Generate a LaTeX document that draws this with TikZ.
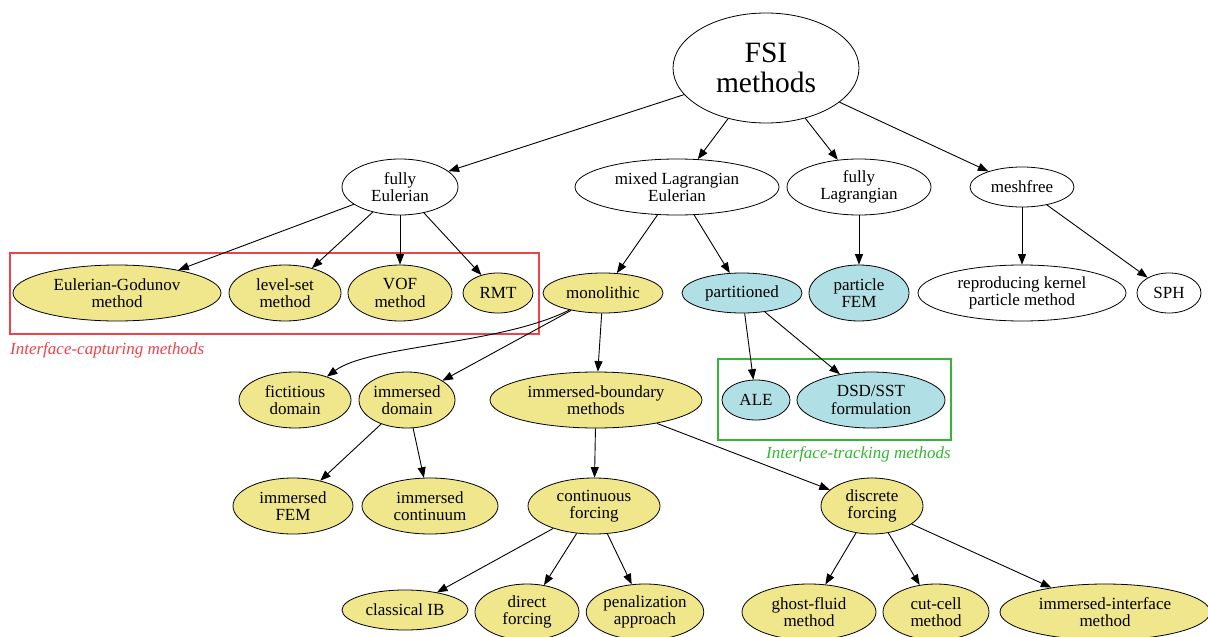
\documentclass[tikz,border=0pt]{standalone}
\usepackage{fontspec}
\setmainfont{Liberation Serif}
\usetikzlibrary{shapes.geometric,arrows.meta}
\definecolor{khaki}{HTML}{F0E68C}
\definecolor{lblue}{HTML}{B0DFE5}
\definecolor{boxred}{HTML}{F0424A}
\definecolor{boxgreen}{HTML}{33B633}
\begin{document}
\begin{tikzpicture}[x=1pt,y=-1pt,
  ell/.style={ellipse,draw,line width=0.8pt,inner sep=0pt,align=center,font=\fontsize{17}{17.5}\selectfont},
  yel/.style={ell,fill=khaki},
  blu/.style={ell,fill=lblue},
  wht/.style={ell,fill=white},
  arr/.style={-{Triangle[length=10.5pt,width=8pt]},line width=0.9pt},
  sz/.style 2 args={minimum width=#1pt,minimum height=#2pt}]
\useasboundingbox (0,0) rectangle (1208,637);
% groups
\node[draw=boxred,line width=1.3pt,minimum width=529pt,minimum height=81pt,inner sep=0pt] (capbox) at (274.5,293.5) {};
\node[anchor=base west,text=boxred,font=\fontsize{17}{17.5}\selectfont\itshape,inner sep=0pt] (caplab) at (10,354) {Interface-capturing methods};
\node[draw=boxgreen,line width=1.3pt,minimum width=233pt,minimum height=81pt,inner sep=0pt] (trkbox) at (834.5,399.5) {};
\node[anchor=base east,text=boxgreen,font=\fontsize{17}{17.5}\selectfont\itshape,inner sep=0pt] (trklab) at (951,458) {Interface-tracking methods};
% nodes
\node[wht,sz={186}{110},font=\fontsize{29.5}{30}\selectfont] (fsi) at (766,68) {FSI\\methods};
\node[wht,sz={116}{56}] (feu) at (400,187) {fully\\Eulerian};
\node[wht,sz={204}{56}] (mle) at (677,187) {mixed Lagrangian\\Eulerian};
\node[wht,sz={144}{56}] (fla) at (859,187) {fully\\Lagrangian};
\node[wht,sz={104}{40}] (msh) at (1022,187) {meshfree};
\node[yel,sz={208}{56}] (egm) at (117,293) {Eulerian-Godunov\\method};
\node[yel,sz={112}{56}] (lsm) at (285,293) {level-set\\method};
\node[yel,sz={104}{56}] (vof) at (400,293) {VOF\\method};
\node[yel,sz={70}{40}] (rmt) at (498,293) {RMT};
\node[yel,sz={120}{40}] (mono) at (603,293) {monolithic};
\node[blu,sz={120}{40}] (part) at (742,293) {partitioned};
\node[blu,sz={100}{56}] (pfem) at (859,293) {particle\\FEM};
\node[wht,sz={208}{56}] (rkpm) at (1022,293) {reproducing kernel\\particle method};
\node[wht,sz={64}{40}] (sph) at (1169,293) {SPH};
\node[yel,sz={112}{56}] (fict) at (295,400) {fictitious\\domain};
\node[yel,sz={96}{56}] (imd) at (407,400) {immersed\\domain};
\node[yel,sz={212}{56}] (ibm) at (596,400) {immersed-boundary\\methods};
\node[blu,sz={68}{40}] (ale) at (756,400) {ALE};
\node[blu,sz={148}{56}] (dsd) at (871,400) {DSD/SST\\formulation};
\node[yel,sz={120}{56}] (ifem) at (293,506) {immersed\\FEM};
\node[yel,sz={136}{56}] (icon) at (430,506) {immersed\\continuum};
\node[yel,sz={132}{56}] (cfor) at (594,506) {continuous\\forcing};
\node[yel,sz={102}{56}] (dfor) at (872,506) {discrete\\forcing};
\node[yel,sz={126}{40}] (cib) at (405,610) {classical IB};
\node[yel,sz={104}{56}] (dir) at (527,612) {direct\\forcing};
\node[yel,sz={116}{56}] (pen) at (645,612) {penalization\\approach};
\node[yel,sz={134}{56}] (gfm) at (809,612) {ghost-fluid\\method};
\node[yel,sz={106}{56}] (ccm) at (936,612) {cut-cell\\method};
\node[yel,sz={210}{56}] (iim) at (1105,612) {immersed-interface\\method};
% edges
\draw[arr] (fsi) -- (feu);
\draw[arr] (fsi) -- (mle);
\draw[arr] (fsi) -- (fla);
\draw[arr] (fsi) -- (msh);
\draw[arr] (feu) -- (egm);
\draw[arr] (feu) -- (lsm);
\draw[arr] (feu) -- (vof);
\draw[arr] (feu) -- (rmt);
\draw[arr] (mle) -- (mono);
\draw[arr] (mle) -- (part);
\draw[arr] (fla) -- (pfem);
\draw[arr] (msh) -- (rkpm);
\draw[arr] (msh) -- (sph);
\draw[arr] (mono) .. controls (500,345) and (370,345) .. (fict);
\draw[arr] (mono) -- (imd);
\draw[arr] (mono) -- (ibm);
\draw[arr] (part) -- (ale);
\draw[arr] (part) -- (dsd);
\draw[arr] (imd) -- (ifem);
\draw[arr] (imd) -- (icon);
\draw[arr] (ibm) -- (cfor);
\draw[arr] (ibm) -- (dfor);
\draw[arr] (cfor) -- (cib);
\draw[arr] (cfor) -- (dir);
\draw[arr] (cfor) -- (pen);
\draw[arr] (dfor) -- (gfm);
\draw[arr] (dfor) -- (ccm);
\draw[arr] (dfor) -- (iim);
\end{tikzpicture}
\end{document}
